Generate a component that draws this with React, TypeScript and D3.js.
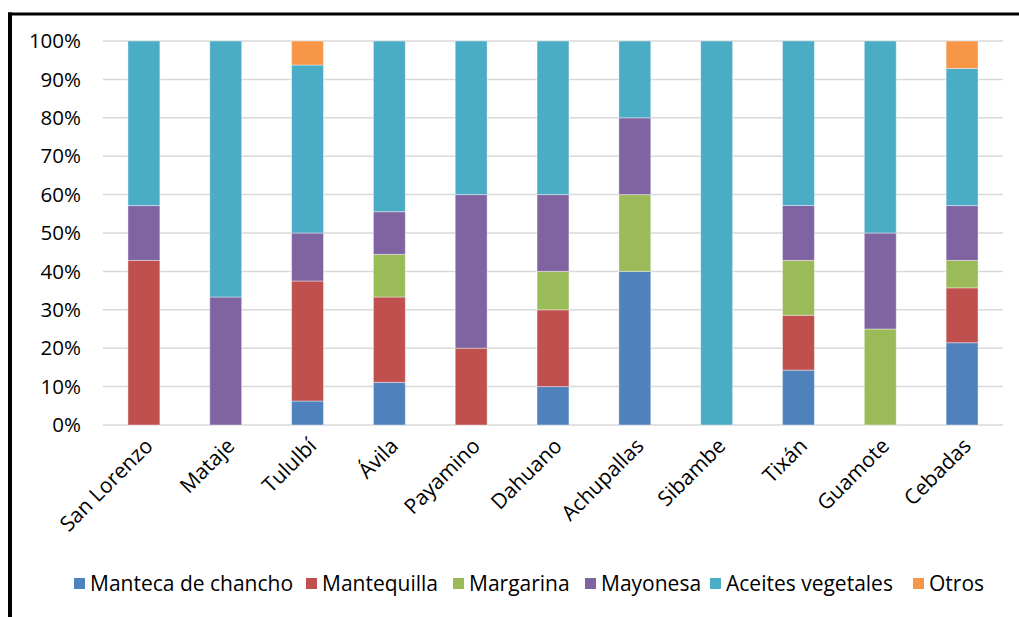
import React from "react";
import * as d3 from "d3";

const categories = ["San Lorenzo", "Mataje", "Tululbí", "Ávila", "Payamino", "Dahuano", "Achupallas", "Sibambe", "Tixán", "Guamote", "Cebadas"];
const seriesNames = ["Manteca de chancho", "Mantequilla", "Margarina", "Mayonesa", "Aceites vegetales", "Otros"];
const colors = ["#4f81bd", "#c0504d", "#9bbb59", "#8064a2", "#4bacc6", "#f79646"];
const mantecaDeChancho = [0, 0, 6.25, 11.11, 0, 10, 40, 0, 14.29, 0, 21.43];
const mantequilla = [42.86, 0, 31.25, 22.22, 20, 20, 0, 0, 14.29, 0, 14.29];
const margarina = [0, 0, 0, 11.11, 0, 10, 20, 0, 14.29, 25, 7.14];
const mayonesa = [14.29, 33.33, 12.5, 11.11, 40, 20, 20, 0, 14.29, 25, 14.29];
const aceitesVegetales = [42.86, 66.67, 43.75, 44.44, 40, 40, 20, 100, 42.86, 50, 35.71];
const otros = [0, 0, 6.25, 0, 0, 0, 0, 0, 0, 0, 7.14];
const yTicks = [0, 10, 20, 30, 40, 50, 60, 70, 80, 90, 100];

const seriesValues = [mantecaDeChancho, mantequilla, margarina, mayonesa, aceitesVegetales, otros];

export default function App() {
  const W = 1019, H = 617;
  const left = 103, right = 1003, top = 41, bottom = 425;
  const x = d3.scaleBand().domain(categories).range([left, right]).paddingInner(0.61).paddingOuter(0.305);
  const y = d3.scaleLinear().domain([0, 100]).range([bottom, top]);
  const rows = categories.map((c, i) => {
    const r: any = { cat: c };
    seriesNames.forEach((s, j) => (r[s] = seriesValues[j][i]));
    return r;
  });
  const stacked = d3.stack().keys(seriesNames)(rows);
  const font = "'Open Sans', sans-serif";
  const legendSquareX = [74, 306, 453, 585, 710, 913];
  return (
    <svg width={W} height={H} style={{ position: "absolute", left: 0, top: 0 }} fontFamily={font}>
      <rect x={0} y={0} width={W} height={H} fill="#fff" />
      <line x1={8} y1={14} x2={W} y2={14} stroke="#000" strokeWidth={3} />
      <line x1={10} y1={12.5} x2={10} y2={H} stroke="#000" strokeWidth={4} />
      {yTicks.map((t) => (
        <g key={t}>
          <line x1={left} x2={right} y1={y(t)} y2={y(t)} stroke="#d9d9d9" strokeWidth={1.5} />
          <text x={81} y={y(t)} dy="0.35em" textAnchor="end" fontSize={20.5} fill="#000">
            {t}%
          </text>
        </g>
      ))}
      {stacked.map((s, j) =>
        s.map((d, i) =>
          d[1] - d[0] > 0 ? (
            <rect
              key={j + "-" + i}
              x={x(categories[i])}
              width={x.bandwidth()}
              y={y(d[1])}
              height={y(d[0]) - y(d[1])}
              fill={colors[j]}
              stroke="#fff"
              strokeOpacity={0.4}
              strokeWidth={1}
            />
          ) : null
        )
      )}
      {categories.map((c) => {
        const cx = (x(c) as number) + x.bandwidth() / 2;
        return (
          <text
            key={c}
            transform={`translate(${cx + 5},${bottom + 17}) rotate(-45)`}
            textAnchor="end"
            dy="0.35em"
            fontSize={21}
            fill="#000"
          >
            {c}
          </text>
        );
      })}
      {seriesNames.map((name, j) => (
        <g key={name}>
          <rect x={legendSquareX[j]} y={578} width={11} height={11} fill={colors[j]} />
          <text x={legendSquareX[j] + 16} y={584} dy="0.35em" fontSize={21} fill="#000">
            {name}
          </text>
        </g>
      ))}
    </svg>
  );
}
